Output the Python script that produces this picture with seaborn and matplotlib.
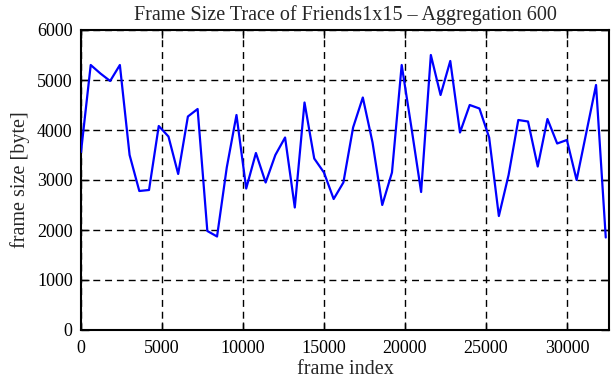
import numpy as np
import pandas as pd
import seaborn as sns
import matplotlib
matplotlib.use("Agg")
import matplotlib.pyplot as plt

# Data (frame size averaged over blocks of 600 frames)
aggregation = 600
frame_size = [3560, 5300, 5130, 4980, 5300, 3500, 2780, 2800, 4080, 3870,
              3120, 4270, 4420, 1980, 1870, 3250, 4300, 2830, 3540, 2950,
              3500, 3850, 2450, 4550, 3430, 3150, 2620, 2950, 4050, 4650,
              3750, 2500, 3150, 5300, 4050, 2760, 5500, 4700, 5380, 3950,
              4500, 4430, 3850, 2280, 3100, 4200, 4170, 3270, 4220, 3730,
              3800, 3000, 3950, 4900, 1850]
frame_index = [i * aggregation for i in range(len(frame_size))]

x_ticks = [0, 5000, 10000, 15000, 20000, 25000, 30000]
y_ticks = [0, 1000, 2000, 3000, 4000, 5000, 6000]

df = pd.DataFrame({"frame index": frame_index, "frame size [byte]": frame_size})

sns.set_style("ticks")
plt.rcParams["font.family"] = ["Liberation Serif", "DejaVu Serif"]

fig = plt.figure(figsize=(6.11, 3.80), dpi=100)
ax = fig.add_axes([81 / 611, 1 - 330 / 380, (609 - 81) / 611, 300 / 380])

sns.lineplot(data=df, x="frame index", y="frame size [byte]", ax=ax,
             color="#0000ff", linewidth=1.6, zorder=3)

ax.set_xlim(0, 32600)
ax.set_ylim(0, 6000)
ax.set_xticks(x_ticks)
ax.set_yticks(y_ticks)
ax.set_xticklabels([str(t) for t in x_ticks])
ax.set_yticklabels([str(t) for t in y_ticks])

ax.grid(True, color="black", linestyle=(0, (5, 3.5)), linewidth=1.0)
ax.tick_params(direction="in", length=6, width=1, top=True, right=True,
               labelsize=13, colors="black", pad=6)
ax.tick_params(axis="x", pad=7)
for s in ax.spines.values():
    s.set_linewidth(1.5)
    s.set_color("black")

ax.set_title("Frame Size Trace of Friends1x15 \u2013 Aggregation 600", fontsize=14.5, pad=7)
ax.set_xlabel("frame index", fontsize=14.5, labelpad=2)
ax.set_ylabel("frame size [byte]", fontsize=14.5, labelpad=5)

fig.savefig("out.png", dpi=100)
